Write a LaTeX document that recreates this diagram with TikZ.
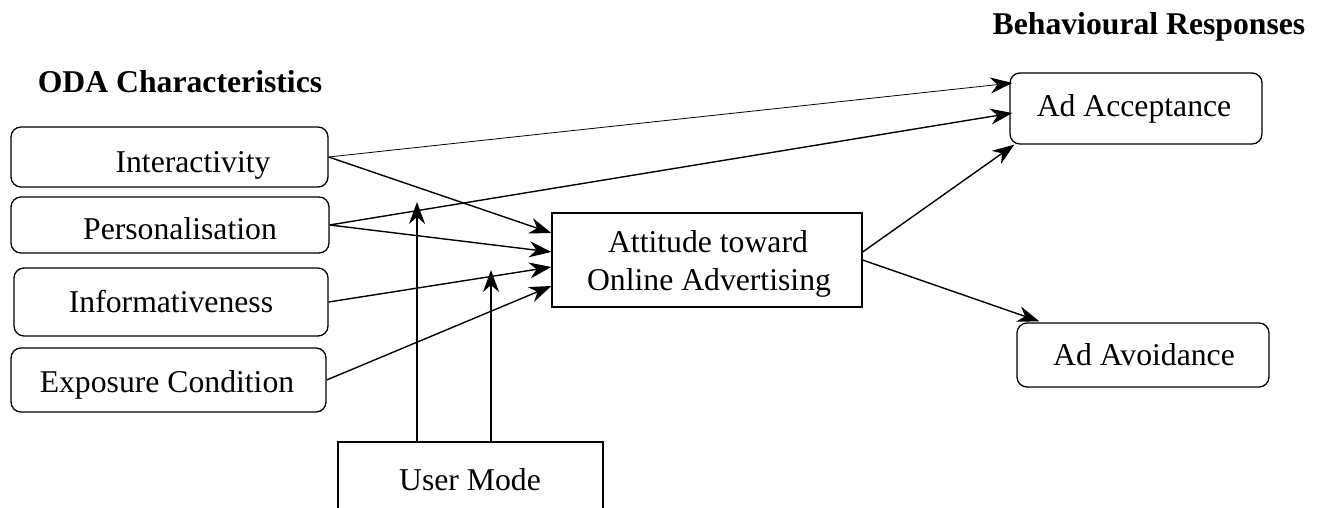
\documentclass[tikz,border=0pt]{standalone}
\usepackage{fontspec}
\setmainfont{Liberation Serif}
\usetikzlibrary{arrows.meta,calc}

\begin{document}
\begin{tikzpicture}[x=1pt,y=-1pt,
  every node/.style={font=\fontsize{31.7}{38}\selectfont},
  rbox/.style={draw,line width=1.3pt,rounded corners=10pt,inner sep=0pt},
  sbox/.style={draw,line width=1.3pt,inner sep=0pt},
  lbl/.style={inner sep=0pt,anchor=base},
  ttl/.style={lbl,font=\fontsize{31.7}{38}\selectfont\bfseries},
  tip/.style={-{Stealth[length=22pt,width=16pt,inset=7pt]}},
  arr/.style={line width=1.4pt,tip},
  thinarr/.style={line width=0.8pt,tip}
]
\useasboundingbox (0,0) rectangle (1326,508);

% headings
\node[ttl] (hoda) at (180,93) {ODA Characteristics};
\node[ttl] (hbeh) at (1149,35) {Behavioural Responses};

% ODA characteristics
\node[rbox,minimum width=317pt,minimum height=60pt] (int) at (169.5,157) {};
\node[lbl] (tint) at (193,172) {Interactivity};
\node[rbox,minimum width=318pt,minimum height=56pt] (pers) at (170,225) {};
\node[lbl] (tpers) at (180,240) {Personalisation};
\node[rbox,minimum width=314pt,minimum height=68pt] (info) at (171,302) {};
\node[lbl] (tinfo) at (171,312) {Informativeness};
\node[rbox,minimum width=315pt,minimum height=64pt] (expo) at (168.5,380) {};
\node[lbl] (texpo) at (167,392) {Exposure Condition};

% attitude
\node[sbox,minimum width=310pt,minimum height=94pt] (att) at (707,260) {};
\node[lbl] (tatt1) at (708,252) {Attitude toward};
\node[lbl] (tatt2) at (709,290) {Online Advertising};

% behavioural responses
\node[rbox,minimum width=252pt,minimum height=71pt] (acc) at (1136,108.5) {};
\node[lbl] (tacc) at (1134,117) {Ad Acceptance};
\node[rbox,minimum width=252pt,minimum height=64pt] (avo) at (1143,355) {};
\node[lbl] (tavo) at (1144,365) {Ad Avoidance};

% moderator (runs off the lower edge)
\node[sbox,minimum width=265pt,minimum height=90pt] (user) at (470.5,487) {};
\node[lbl] (tuser) at (470,490) {User Mode};

% arrow end points
\coordinate (a1) at ([yshift=27pt]att.west);
\coordinate (a2) at ([yshift=8pt]att.west);
\coordinate (a3) at ([yshift=-7pt]att.west);
\coordinate (a4) at ([yshift=-26pt]att.west);
\coordinate (c1) at ([xshift=3pt,yshift=25.5pt]acc.west);
\coordinate (c2) at ([xshift=3pt,yshift=-4.5pt]acc.west);
\coordinate (c3) at ([xshift=5pt]acc.south west);
\coordinate (o1) at ([yshift=8pt]att.east);
\coordinate (o2) at ([yshift=0pt]att.east);
\coordinate (v1) at ([xshift=23pt,yshift=1pt]avo.north west);
\coordinate (m1) at (417,202);
\coordinate (m2) at (491,270);

% connectors
\draw[thinarr] (int.east) -- (c1);
\draw[arr] (int.east) -- (a1);
\draw[arr] (pers.east) -- (c2);
\draw[arr] (pers.east) -- (a2);
\draw[arr] (info.east) -- (a3);
\draw[arr] (expo.east) -- (a4);
\draw[arr] (o1) -- (c3);
\draw[arr] (o2) -- (v1);
\draw[arr] (m1 |- user.north) -- (m1);
\draw[arr] (m2 |- user.north) -- (m2);
\end{tikzpicture}
\end{document}
